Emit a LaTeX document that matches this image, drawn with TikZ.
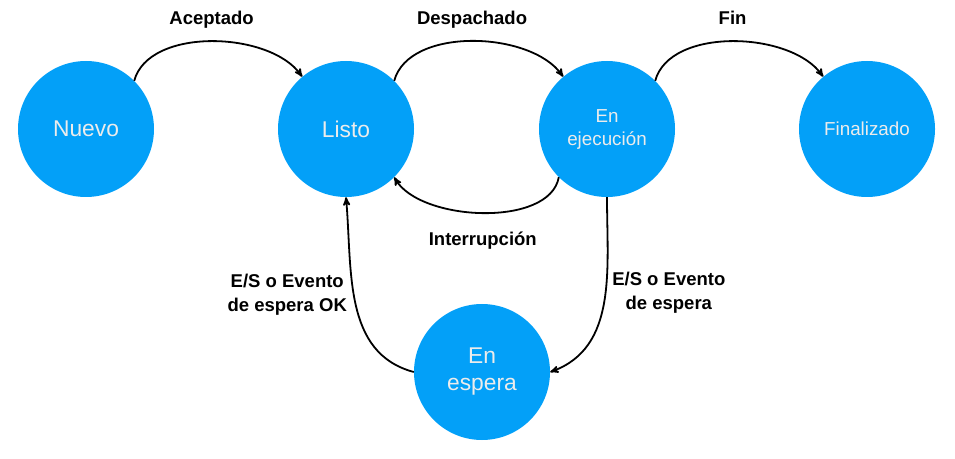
\documentclass[tikz,border=0pt]{standalone}
\usepackage{fontspec}
\setsansfont{Liberation Sans}
\usetikzlibrary{arrows}
\definecolor{stateblue}{RGB}{3,160,248}
\definecolor{statetext}{RGB}{236,236,236}

\begin{document}
\begin{tikzpicture}[
  x=1pt,y=1pt,
  font=\sffamily,
  state/.style={circle,fill=stateblue,text=statetext,minimum size=136pt,inner sep=0pt,align=center},
  big/.style={font=\sffamily\fontsize{22.8}{27}\selectfont},
  small/.style={font=\sffamily\fontsize{18.8}{23}\selectfont},
  goes/.style={->,>=stealth',line width=1.8pt},
  lbl/.style={font=\sffamily\bfseries\fontsize{18.5}{24}\selectfont,align=center,inner sep=2pt}]

  \useasboundingbox (0,0) rectangle (955,458);

  % Position the states at fixed coordinates
  \node[state,big] (nuevo) at (86,329) {Nuevo};
  \node[state,big] (listo) at (346,329) {Listo};
  \node[state,small] (ejecucion) at (607,329) {En\\ejecución};
  \node[state,small] (finalizado) at (867,329) {Finalizado};
  \node[state,big] (espera) at (482,86) {En\\espera};

  % Draw the transitions between the states and label them.
  \draw[goes] (nuevo.45) to[out=75,in=125,looseness=0.85]
      node[lbl,midway,above=10pt] {Aceptado} (listo.130);
  \draw[goes] (listo.45) to[out=75,in=125,looseness=0.85]
      node[lbl,midway,above=10pt] {Despachado} (ejecucion.130);
  \draw[goes] (ejecucion.45) to[out=75,in=125,looseness=0.85]
      node[lbl,midway,above=10pt,text depth=4pt] {Fin} (finalizado.130);
  \draw[goes] (ejecucion.-135) to[out=-100,in=-60,looseness=0.8]
      node[lbl,midway,below=16pt] {Interrupción} (listo.-45);
  \draw[goes] (espera.west) to[out=165,in=-85]
      node[lbl,pos=0.55,left=4pt] {E/S o Evento\\de espera OK} (listo.-90);
  \draw[goes] (ejecucion.-90) to[out=-90,in=20]
      node[lbl,pos=0.45,right=4pt] {E/S o Evento\\de espera} (espera.east);
\end{tikzpicture}
\end{document}
